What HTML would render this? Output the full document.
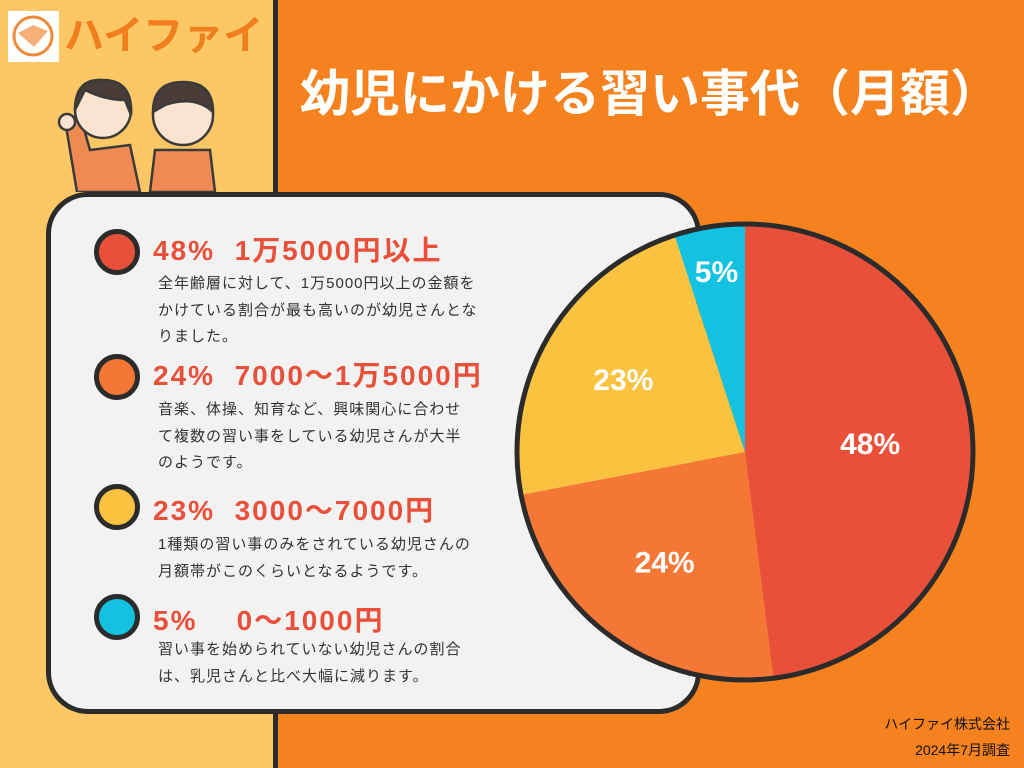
<!DOCTYPE html>
<html><head><meta charset="utf-8"><style>
body{margin:0;width:1024px;height:768px;overflow:hidden;position:relative;background:#F5821F;font-family:"Liberation Sans","Noto Sans CJK JP",sans-serif}
.abs{position:absolute}
.h{position:absolute;left:153px;color:#E8503A;font-weight:bold;font-size:28px;letter-spacing:2px;white-space:nowrap}
.b{position:absolute;left:158px;color:#333;font-size:15px;letter-spacing:1px;line-height:26.5px;white-space:nowrap}
.dot{position:absolute;width:36px;height:36px;border-radius:50%;border:5px solid #2b2b2b}
</style></head><body>
<div class="abs" style="left:0;top:0;width:273px;height:768px;background:#FDC766;border-right:5px solid #2b2b2b"></div>
<div class="abs" style="left:8px;top:11px;width:51px;height:51px;background:#fff">
<svg width="51" height="51"><circle cx="25" cy="25" r="19" fill="none" stroke="#EE8A3C" stroke-width="3"/><path d="M10 22 L25 14 L40 20 L26 36 Z" fill="#F6B077"/></svg></div>
<div class="abs" style="left:64px;top:10px;color:#F07E1E;font-weight:bold;font-size:40px;line-height:52px">ハイファイ</div>
<svg class="abs" style="left:55px;top:70px" width="170" height="122">
<g stroke="#3a3a3a" stroke-width="2.5">
<path d="M22 122 L10 50 L25 45 L35 80 L75 75 L85 122Z" fill="#EF8A52"/>
<circle cx="48" cy="40" r="28" fill="#FBE3CF"/>
<path d="M20 40 Q20 8 48 10 Q78 10 76 45 L70 30 Q50 30 30 20Z" fill="#4a3c38"/>
<circle cx="12" cy="52" r="8" fill="#FBE3CF"/>
<path d="M95 122 L100 80 L155 80 L160 122Z" fill="#EF8A52"/>
<circle cx="128" cy="45" r="30" fill="#FBE3CF"/>
<path d="M98 42 Q98 12 128 12 Q158 12 158 42 Q140 25 110 35Z" fill="#4a3c38"/>
</g></svg>
<div class="abs" style="left:300px;top:62px;color:#fff;font-weight:bold;font-size:50px;line-height:64px;white-space:nowrap">幼児にかける習い事代（月額）</div>
<div class="abs" style="left:46px;top:192px;width:645px;height:512px;background:#F2F2F2;border:5px solid #2b2b2b;border-radius:42px"></div>

<div class="dot" style="left:94px;top:229px;background:#E8503A"></div>
<div class="h" style="top:229px">48%&nbsp;&nbsp;1万5000円以上</div>
<div class="b" style="top:271px">全年齢層に対して、1万5000円以上の金額を<br>かけている割合が最も高いのが幼児さんとな<br>りました。</div>

<div class="dot" style="left:94px;top:354px;background:#F47735"></div>
<div class="h" style="top:354px">24%&nbsp;&nbsp;7000〜1万5000円</div>
<div class="b" style="top:397px">音楽、体操、知育など、興味関心に合わせ<br>て複数の習い事をしている幼児さんが大半<br>のようです。</div>

<div class="dot" style="left:94px;top:484px;background:#FBC23F"></div>
<div class="h" style="top:489px">23%&nbsp;&nbsp;3000〜7000円</div>
<div class="b" style="top:532px">1種類の習い事のみをされている幼児さんの<br>月額帯がこのくらいとなるようです。</div>

<div class="dot" style="left:94px;top:594px;background:#13C1E0"></div>
<div class="h" style="top:599px">5%&nbsp;&nbsp;&nbsp;&nbsp;0〜1000円</div>
<div class="b" style="top:637px">習い事を始められていない幼児さんの割合<br>は、乳児さんと比べ大幅に減ります。</div>

<svg id="pie" class="abs" style="left:0;top:0" width="1024" height="768"></svg>
<div class="abs" style="right:14px;top:714px;font-size:14px;color:#111">ハイファイ株式会社</div>
<div class="abs" style="right:14px;top:740px;font-size:14px;color:#111">2024年7月調査</div>
<script>
const categories=['1万5000円以上','7000〜1万5000円','3000〜7000円','0〜1000円'];
const values=[48,24,23,5];
const colors=['#E8503A','#F47735','#FBC23F','#13C1E0'];
const labelR=[0.55,0.6,0.62,0.8];
const svg=document.getElementById('pie');
const NS='http://www.w3.org/2000/svg';
const cx=745,cy=452,r=228;
const total=values.reduce((a,b)=>a+b,0);
let a0=0;
function pt(a,rr){return [cx+rr*Math.sin(a),cy-rr*Math.cos(a)];}
values.forEach((v,i)=>{
 const a1=a0+v/total*2*Math.PI;
 const p0=pt(a0,r),p1=pt(a1,r);
 const path=document.createElementNS(NS,'path');
 path.setAttribute('d',`M${cx} ${cy} L${p0[0]} ${p0[1]} A${r} ${r} 0 ${a1-a0>Math.PI?1:0} 1 ${p1[0]} ${p1[1]} Z`);
 path.setAttribute('fill',colors[i]);
 
 
 svg.appendChild(path);
 const m=(a0+a1)/2,lp=pt(m,r*labelR[i]);
 const t=document.createElementNS(NS,'text');
 t.setAttribute('x',lp[0]);t.setAttribute('y',lp[1]+10);
 t.setAttribute('text-anchor','middle');t.setAttribute('fill','#fff');
 t.setAttribute('font-size','30');t.setAttribute('font-weight','bold');
 t.setAttribute('font-family','"Liberation Sans","Noto Sans CJK JP",sans-serif');
 t.textContent=v+'%';
 
 
 svg.appendChild(t);
 a0=a1;
});
const c=document.createElementNS(NS,'circle');
c.setAttribute('cx',cx);c.setAttribute('cy',cy);c.setAttribute('r',r);
c.setAttribute('fill','none');c.setAttribute('stroke','#2b2b2b');c.setAttribute('stroke-width','5');


svg.appendChild(c);
</script>
</body></html>
